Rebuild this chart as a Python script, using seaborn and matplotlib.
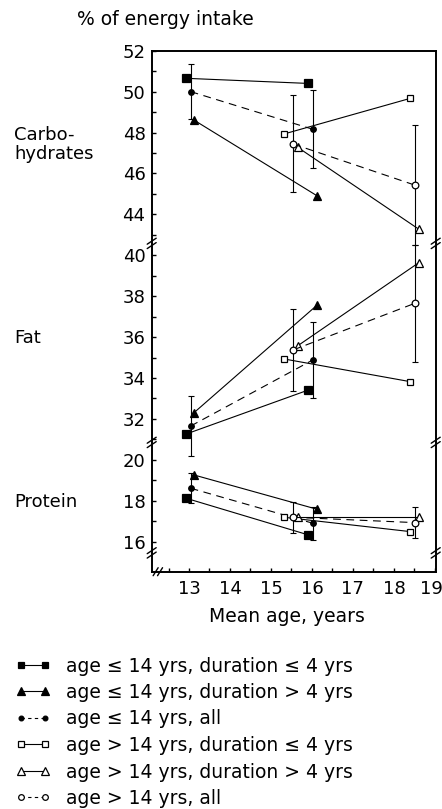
import numpy as np
import pandas as pd
import matplotlib
matplotlib.use("Agg")
import matplotlib.pyplot as plt
import seaborn as sns
from matplotlib.lines import Line2D
from matplotlib.ticker import FixedLocator, FixedFormatter
from matplotlib.transforms import (blended_transform_factory, IdentityTransform,
                                   ScaledTranslation)

# ---- data -----------------------------------------------------------------
labels = [
    "age \u2264 14 yrs, duration \u2264 4 yrs",
    "age \u2264 14 yrs, duration > 4 yrs",
    "age \u2264 14 yrs, all",
    "age > 14 yrs, duration \u2264 4 yrs",
    "age > 14 yrs, duration > 4 yrs",
    "age > 14 yrs, all",
]
age_first = [12.93, 13.12, 13.04, 15.32, 15.65, 15.54]
age_follow = [15.91, 16.13, 16.02, 18.40, 18.61, 18.51]

carb_first = [50.65, 48.61, 50.00, 47.93, 47.28, 47.44]
carb_follow = [50.40, 44.90, 48.16, 49.67, 43.27, 45.43]
fat_first = [31.26, 32.30, 31.65, 34.93, 35.57, 35.37]
fat_follow = [33.41, 37.57, 34.88, 33.82, 39.64, 37.65]
protein_first = [18.12, 19.26, 18.61, 17.19, 17.22, 17.19]
protein_follow = [16.33, 17.58, 16.90, 16.49, 17.22, 16.93]

# standard deviations, shown only for the two "all" groups
sd_groups = [2, 5]
carb_sd_first = [1.35, 2.37]
carb_sd_follow = [1.90, 2.95]
fat_sd_first = [1.45, 2.00]
fat_sd_follow = [1.87, 2.85]
protein_sd_first = [0.73, 0.75]
protein_sd_follow = [0.80, 0.75]

nutrients = ["Carbohydrates", "Fat", "Protein"]
# the three panels share one broken y axis; each is shifted onto it
axis_shift = {"Carbohydrates": -12, "Fat": -10, "Protein": 0}

values = {
    "Carbohydrates": (carb_first, carb_follow, carb_sd_first, carb_sd_follow),
    "Fat": (fat_first, fat_follow, fat_sd_first, fat_sd_follow),
    "Protein": (protein_first, protein_follow, protein_sd_first, protein_sd_follow),
}

rows = []
for nut in nutrients:
    first, follow, _, _ = values[nut]
    for i, lab in enumerate(labels):
        for age, v in ((age_first[i], first[i]), (age_follow[i], follow[i])):
            rows.append(dict(nutrient=nut, group=lab, age=age, value=v,
                             y=v + axis_shift[nut]))
df = pd.DataFrame(rows)

# ---- styling --------------------------------------------------------------
sns.set_style("ticks")
plt.rcParams["font.family"] = ["DejaVu Sans"]
plt.rcParams["text.color"] = "black"
plt.rcParams["xtick.color"] = "black"
plt.rcParams["ytick.color"] = "black"
plt.rcParams["xtick.labelcolor"] = "black"
plt.rcParams["ytick.labelcolor"] = "black"

dashed = (0, (7, 5))
styles = [
    dict(marker="s", markersize=5.2, markerfacecolor="black", linestyle="-"),
    dict(marker="^", markersize=6.0, markerfacecolor="black", linestyle="-"),
    dict(marker="o", markersize=4.0, markerfacecolor="black", linestyle=dashed),
    dict(marker="s", markersize=4.8, markerfacecolor="white", linestyle="-"),
    dict(marker="^", markersize=6.0, markerfacecolor="white", linestyle="-"),
    dict(marker="o", markersize=4.8, markerfacecolor="white", linestyle=dashed),
]

W, H = 442, 809
fig = plt.figure(figsize=(W / 100, H / 100), dpi=100)
ax_l, ax_r, ax_t, ax_b = 151.7, 435.7, 50.7, 571.7
ax = fig.add_axes([ax_l / W, 1 - ax_b / H, (ax_r - ax_l) / W, (ax_b - ax_t) / H])

for nut in nutrients:
    for i, lab in enumerate(labels):
        sub = df[(df.nutrient == nut) & (df.group == lab)]
        sns.lineplot(data=sub, x="age", y="y", ax=ax, color="black",
                     linewidth=0.8, markeredgecolor="black",
                     markeredgewidth=0.9, estimator=None, sort=False,
                     legend=False, zorder=3, **styles[i])
    first, follow, sdf, sdl = values[nut]
    ex, ey, ee = [], [], []
    for k, g in enumerate(sd_groups):
        ex += [age_first[g], age_follow[g]]
        ey += [first[g] + axis_shift[nut], follow[g] + axis_shift[nut]]
        ee += [sdf[k], sdl[k]]
    ax.errorbar(ex, ey, yerr=ee, fmt="none", ecolor="black",
                elinewidth=0.8, capsize=2.2, capthick=0.8, zorder=2)

ax.set_xlim(12.09, 19.02)
ax.set_ylim(14.53, 40.0)

ax.xaxis.set_major_locator(FixedLocator(list(range(13, 20))))
ax.xaxis.set_minor_locator(FixedLocator(list(np.arange(12.5, 19.0, 1.0))))

ytick_pos = [16, 18, 20, 22, 24, 26, 28, 30, 32, 34, 36, 38, 40]
ytick_lab = ["16", "18", "20", "32", "34", "36", "38", "40",
             "44", "46", "48", "50", "52"]
ytick_minor = [17, 19, 21, 23, 25, 27, 29, 31, 33, 35, 37, 39]
ax.yaxis.set_major_locator(FixedLocator(ytick_pos))
ax.yaxis.set_major_formatter(FixedFormatter(ytick_lab))
ax.yaxis.set_minor_locator(FixedLocator(ytick_minor))

ax.tick_params(which="both", direction="in", length=3.0, width=1.0,
               color="black", labelcolor="black")
ax.tick_params(axis="y", which="major", pad=4.5, labelsize=13)
ax.tick_params(axis="x", which="major", pad=6, labelsize=13)
ax.set_xlabel("")
ax.set_ylabel("")
for s in ax.spines.values():
    s.set_linewidth(1.4)
    s.set_color("black")

# keep the last age label inside the figure edge
last = ax.xaxis.get_major_ticks()[-1].label1
last.set_transform(last.get_transform() +
                   ScaledTranslation(-0.035, 0, fig.dpi_scale_trans))

# break marks on the spines
base = blended_transform_factory(ax.transAxes, ax.transData)


def spine_break(xf, yv):
    px, py = base.transform((xf, yv))
    for dy in (-2.2, 2.2):
        fig.add_artist(Line2D([px - 4.5, px + 4.5], [py + dy - 3, py + dy + 3],
                              transform=IdentityTransform(), color="black",
                              lw=1.0))


for yv in (30.58, 20.85, 15.45):
    spine_break(0.0, yv)
    spine_break(1.0, yv)

bx, by = ax.transData.transform((12.24, 14.53))
for dx in (-2.2, 2.2):
    fig.add_artist(Line2D([bx + dx - 2.5, bx + dx + 2.5], [by - 4, by + 4],
                          transform=IdentityTransform(), color="black", lw=1.0))

# panel names and axis titles
yt = ax.get_yaxis_transform()
lx = (14 - ax_l) / (ax_r - ax_l)
ax.text(lx, 35.88, "Carbo-", transform=yt, ha="left", va="center", fontsize=13)
ax.text(lx, 34.95, "hydrates", transform=yt, ha="left", va="center", fontsize=13)
ax.text(lx, 25.96, "Fat", transform=yt, ha="left", va="center", fontsize=13)
ax.text(lx, 17.94, "Protein", transform=yt, ha="left", va="center", fontsize=13)

fig.text(77 / W, 1 - 19.3 / H, "% of energy intake", ha="left", va="center",
         fontsize=13.5)
fig.text(286.7 / W, 1 - 616.7 / H, "Mean age, years", ha="center",
         va="center", fontsize=13.5)

handles = []
for st in styles:
    handles.append(Line2D([], [], color="black", lw=0.8,
                          marker=st["marker"],
                          markersize=st["markersize"] * 0.85,
                          markerfacecolor=st["markerfacecolor"],
                          markeredgecolor="black", markeredgewidth=0.9,
                          linestyle=(0, (3, 3)) if st["linestyle"] == dashed else "-"))
fig.legend(handles, labels, loc="upper left",
           bbox_to_anchor=(15 / W, 1 - 656.5 / H), frameon=False,
           fontsize=13.5, numpoints=2, handlelength=1.9, handletextpad=0.8,
           labelspacing=0.40, borderpad=0, borderaxespad=0)

fig.savefig("out.png", dpi=100)
